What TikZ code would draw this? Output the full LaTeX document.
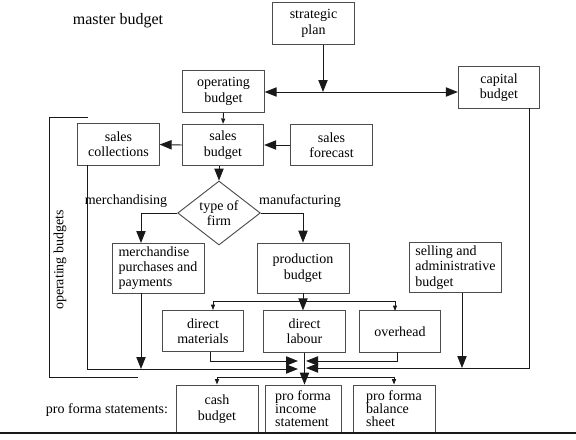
\documentclass[tikz,border=0pt]{standalone}
\usepackage{fontspec}
\setmainfont{Liberation Serif}
\usetikzlibrary{arrows.meta,shapes.geometric}
\definecolor{boxline}{gray}{0.30}
\definecolor{conline}{gray}{0.10}
\tikzset{
  txt/.style={font=\fontsize{10.5}{11.5}\selectfont},
  lab/.style={txt,inner sep=0pt},
  box/.style={txt,draw=boxline,line width=0.7pt,rectangle,inner sep=1pt,align=center,minimum width=61pt,minimum height=31pt},
  wbox/.style={box,minimum width=69pt,minimum height=37.5pt},
  sbox/.style={box,font=\fontsize{10.5}{9.8}\selectfont,minimum width=61.5pt,minimum height=36pt},
  firmbox/.style={txt,draw=boxline,line width=0.7pt,diamond,aspect=1.3,inner sep=0pt,align=center,minimum width=62pt,minimum height=48pt},
  con/.style={draw=conline,line width=0.7pt},
  arr/.style={con,-{Triangle[length=9pt,width=7pt]}},
  arrs/.style={con,-{Triangle[length=4pt,width=3pt]}},
}

\begin{document}
\begin{tikzpicture}[x=0.75pt,y=-0.75pt]
  \useasboundingbox (0,0) rectangle (576,440);
  \node[lab,font=\fontsize{12}{14}\selectfont] (master) at (118,21) {master budget};
  \node[box] (plan) at (313.5,23.5) {strategic\\plan};
  \node[box] (opbud) at (223.5,91.5) {operating\\budget};
  \node[box] (capbud) at (499,87.5) {capital\\budget};
  \node[box] (salesbud) at (223,145) {sales\\budget};
  \node[box] (forecast) at (331.5,145) {sales\\forecast};
  \node[box] (collect) at (118.5,144.5) {sales\\collections};
  \node[firmbox] (firm) at (219,213) {type of\\firm};
  \node[wbox,align=left] (merch) at (158,268) {merchandise\\purchases and\\payments};
  \node[wbox] (prod) at (303,268) {production\\budget};
  \node[wbox,align=left] (selling) at (455.5,267.5) {selling and\\administrative\\budget};
  \node[box] (dmat) at (203,331) {direct\\materials};
  \node[box] (dlab) at (304.5,331.5) {direct\\labour};
  \node[box] (ovh) at (400,331.5) {overhead};
  \node[sbox,font=\fontsize{10.5}{12.5}\selectfont] (cash) at (217,409) {cash\\budget};
  \node[sbox,align=left,minimum width=57pt] (income) at (303,409) {pro forma\\income\\statement};
  \node[sbox,align=left] (balance) at (394,409) {pro forma\\balance\\sheet};
  \node[lab] (merchlab) at (126,201) {merchandising};
  \node[lab] (manulab) at (300,201) {manufacturing};
  \node[lab,rotate=90] (oplab) at (60,260) {operating budgets};
  \node[lab] (pflab) at (107,410) {pro forma statements:};
  \coordinate (jp) at (323,92);
  \coordinate (mx) at (141,243);
  \coordinate (split) at (303,301);
  \coordinate (dmin) at (213,310);
  \coordinate (ovin) at (395,311);
  \coordinate (merge) at (303,377);
  \coordinate (dmout) at (210,352);
  \coordinate (ovout) at (397,352);
  \coordinate (collout) at (87,165);
  \coordinate (merchout) at (141,293);
  \coordinate (capout) at (529,108);
  \coordinate (selout) at (462,293);
  \coordinate (inRa) at (298,361);
  \coordinate (inRb) at (298,369);
  \coordinate (inLa) at (306,361);
  \coordinate (inLb) at (306,368);
  \draw[arr] (plan.south -| jp) -- (jp);
  \draw[arr] (jp) -- (opbud.east |- jp);
  \draw[arr] (jp) -- (capbud.west |- jp);
  \draw[arrs] (opbud.south) -- (salesbud.north);
  \draw[arr] (forecast.west) -- (salesbud.east);
  \draw[arr] (salesbud.west) -- (collect.east);
  \draw[arr] (firm.north |- salesbud.south) -- (firm.north);
  \draw[arr] (firm.west) -| (mx);
  \draw[arr] (firm.east) -| (prod.north);
  \draw[arr] (prod.south) -- (prod.south |- dlab.north);
  \draw[arrs] (split) -| (dmin);
  \draw[arrs] (split) -| (ovin);
  \draw[arr] (dmout) |- (inRa);
  \draw[arr] (ovout) |- (inLa);
  \draw[arr] (collout) |- (inRb);
  \draw[arr] (merchout) -- (merchout |- inRb);
  \draw[arr] (capout) |- (inLb);
  \draw[arr] (selout) -- (selout |- inLb);
  \draw[arr] (dlab.south) -- (dlab.south |- income.north);
  \draw[arrs] (merge) -| (cash.north);
  \draw[arrs] (merge) -| (balance.north);
  \draw[con] (88,117) -- (49,117) -- (49,377) -- (138,377);
  \draw[conline,line width=1.5pt] (0,433) -- (576,433);
\end{tikzpicture}
\end{document}
